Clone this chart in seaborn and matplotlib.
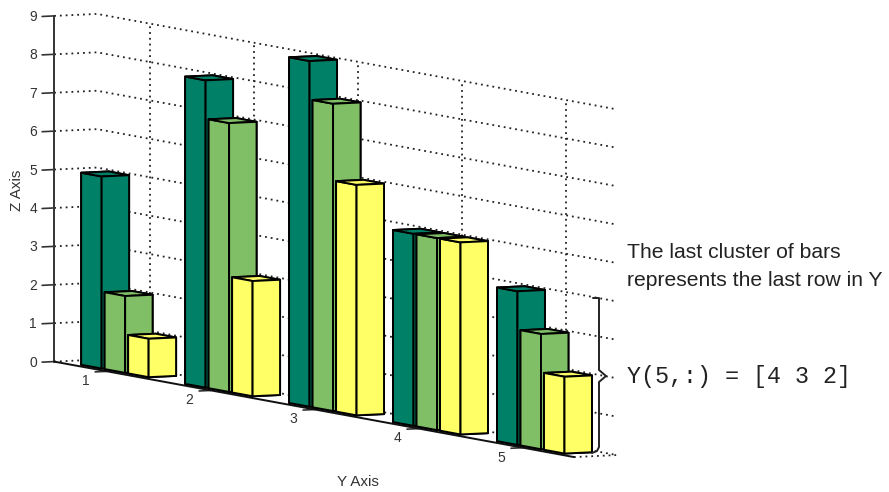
import matplotlib
matplotlib.use('Agg')
import matplotlib.pyplot as plt
import numpy as np
import seaborn as sns
from mpl_toolkits.mplot3d import proj3d

# rows of Y, one list per series
series_a = [5, 8, 9, 5, 4]
series_b = [2, 7, 8, 5, 3]
series_c = [1, 3, 6, 5, 2]
y_ticks = [1, 2, 3, 4, 5]
z_ticks = [0, 1, 2, 3, 4, 5, 6, 7, 8, 9]
bar_colors = ['#008066', '#80BF66', '#FFFF66']

W, H = 889, 492
SLOT = 0.226
BAR_Y = 0.197
BAR_X = 0.64
DOTS = (0, (1, 2.2))


def grid_line(ax, xs, ys, zs, style=DOTS, lw=1.3, color='#222222', zorder=1):
    ax.plot(xs, ys, zs, linestyle=style, linewidth=lw, color=color, zorder=zorder)


def tick_label(ax, x, y, z, label):
    # projected by hand so the text keeps a proper 2D position
    px, py, _ = proj3d.proj_transform(x, y, z, ax.get_proj())
    ax.text2D(px, py, label, transform=ax.transData, ha='center', va='center',
              fontsize=10, color='#333333', zorder=40)


def draw_frame(ax):
    xmin, xmax = ax.get_xlim()
    ymin, ymax = ax.get_ylim()
    zmax = z_ticks[-1]
    for z in z_ticks:
        grid_line(ax, [xmax, xmin, xmin], [ymin, ymin, ymax], [z, z, z])
        grid_line(ax, [xmax, xmax + 0.28], [ymin, ymin], [z, z], style='-', lw=1.2, color='#333333')
        tick_label(ax, xmax + 0.49, ymin, z, str(z))
    for y in y_ticks:
        grid_line(ax, [xmin, xmin], [y, y], [0, zmax])
        grid_line(ax, [xmax, xmax + 0.28], [y, y], [0, 0], style='-', lw=1.2, color='#333333')
        tick_label(ax, xmax + 0.5, y, -0.23, str(y))
    grid_line(ax, [xmax, xmin], [ymax, ymax], [0, 0])
    grid_line(ax, [xmax, xmax], [ymin, ymin], [0, zmax], style='-', lw=1.4, color='#333333', zorder=2)
    grid_line(ax, [xmax, xmax], [ymin, ymax], [0, 0], style='-', lw=1.4, color='#111111', zorder=2)


def draw_bars(ax, palette):
    zorder = 3
    for i, y in enumerate(y_ticks):
        for s, values in enumerate([series_a, series_b, series_c]):
            y0 = y + (s - 1) * SLOT - BAR_Y / 2
            bar = ax.bar3d(0.5 - BAR_X / 2, y0, 0, BAR_X, BAR_Y, values[i],
                           color=palette[s], edgecolor='black', linewidth=1.4, shade=False)
            bar.set_zorder(zorder)
            zorder += 1


def draw_note(fig):
    note = fig.add_axes([0, 0, 1, 1], zorder=20)
    note.set_xlim(0, W)
    note.set_ylim(H, 0)
    note.patch.set_alpha(0)
    note.set_axis_off()
    note.plot([593, 599, 599, 606, 599, 599, 597, 592],
              [298, 298, 370, 376, 382, 447, 451, 453], color='#222222', linewidth=1.4)
    note.text(627, 252, 'The last cluster of bars', fontsize=15.2, color='#222222', va='center')
    note.text(627, 280, 'represents the last row in Y', fontsize=15.2, color='#222222', va='center')
    note.text(627, 376, 'Y(5,:) = [4 3 2]', fontsize=16.8, family='Liberation Mono', color='#222222', va='center')
    note.text(17, 190, 'Z Axis', fontsize=11, rotation=90, color='#333333', ha='center', va='center')
    note.text(358, 482, 'Y Axis', fontsize=11, color='#333333', ha='center', va='center')


def run():
    sns.set_theme(style='white')
    plt.rcParams['font.family'] = ['Liberation Sans', 'DejaVu Sans']
    palette = sns.color_palette(bar_colors)

    side = W
    fig = plt.figure(figsize=(W / 100, H / 100), dpi=100, facecolor='white')
    ax = fig.add_axes([-121 / W, -200 / H, side / W, side / H], projection='3d', proj_type='ortho')
    ax.computed_zorder = False
    ax.view_init(elev=5.3, azim=63.3)
    ax.set_xlim(0, 1)
    ax.set_ylim(0.49, 5.49)
    ax.set_zlim(0, 9)
    ax.set_box_aspect((48.1, 1158, 347.5), zoom=1.32)
    ax.set_axis_off()

    draw_frame(ax)
    draw_bars(ax, palette)
    draw_note(fig)

    fig.savefig('out.png', dpi=100)
    plt.close(fig)


if __name__ == '__main__':
    run()
